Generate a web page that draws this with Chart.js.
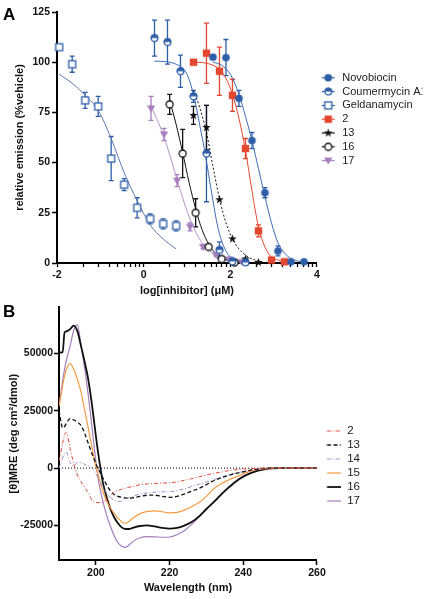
<!DOCTYPE html>
<html>
<head>
<meta charset="utf-8">
<script src="https://cdn.jsdelivr.net/npm/chart.js@4.4.0/dist/chart.umd.min.js"></script>
<style>
  body { margin: 0; background: #fff; }
  #wrap { position: relative; width: 427px; height: 599px; overflow: hidden; }
  canvas { position: absolute; left: 0; }
  #chartA { top: 0; }
  #chartB { top: 300px; }
  .panel { position: absolute; left: 3px; font: bold 17px/17px "Liberation Sans", Arial, sans-serif; color: #000; }
</style>
</head>
<body>
<div id="wrap">
  <canvas id="chartA" width="427" height="300"></canvas>
  <canvas id="chartB" width="427" height="299"></canvas>
  <div class="panel" style="top:6px">A</div>
  <div class="panel" style="top:303px">B</div>
</div>
<script>
// ---- Panel A: log[inhibitor] (uM) vs relative emission (%vehicle) ----
const novoX = [1.6, 1.9, 2.2, 2.5, 2.8, 3.1, 3.4, 3.7];
const novoY = [102.5, 102.3, 82, 61, 35, 6, 0.6, 0.6];
const novoErr = [1, 9, 4, 4, 2.5, 2.5, 0.5, 0.5];

const coumX = [0.25, 0.55, 0.85, 1.15, 1.45, 1.75, 2.05, 2.35];
const coumY = [112, 110, 95.5, 83, 54.5, 6.5, 0.8, 0.3];
const coumErr = [9, 11, 8, 3, 24, 4, 0.5, 0.5];

const geldX = [-1.95, -1.65, -1.35, -1.05, -0.75, -0.45, -0.15, 0.15, 0.45, 0.75];
const geldY = [107.5, 99, 81, 78, 52, 39, 27.5, 22, 19.5, 18.5];
const geldErr = [0, 4, 4, 5, 11, 3, 5, 2.5, 2.5, 2.5];

const c2X = [1.15, 1.45, 1.75, 2.05, 2.35, 2.65, 2.95, 3.25];
const c2Y = [100, 104.5, 95.5, 83.5, 57, 16, 1.5, 0.6];
const c2Err = [0, 15, 12, 8, 5, 3, 0.5, 0.5];

const c13X = [1.15, 1.45, 1.75, 2.05, 2.35, 2.65];
const c13Y = [73.5, 67.5, 31.5, 12, 2, 0.3];
const c13Err = [4.5, 11, 0, 0, 0, 0];

const c16X = [0.6, 0.9, 1.2, 1.5, 1.8, 2.1];
const c16Y = [79, 54.5, 25, 8, 2, 0.3];
const c16Err = [5, 12, 7, 1, 0.5, 0];

const c17X = [0.17, 0.47, 0.77, 1.07, 1.37, 1.67, 1.97, 2.27];
const c17Y = [77, 64, 41, 18, 8, 4, 1.8, 0.5];
const c17Err = [6, 3, 3, 2, 1, 0.5, 0.5, 0.5];

// fitted curves
const novoFitX = [1.6, 1.8, 2.0, 2.2, 2.35, 2.5, 2.65, 2.8, 2.95, 3.1, 3.25, 3.4, 3.55, 3.7];
const novoFitY = [100, 98.5, 94, 84, 73, 61, 47, 33, 20, 10, 5, 2.2, 1, 0.4];
const coumFitX = [0.25, 0.5, 0.75, 0.9, 1.0, 1.1, 1.2, 1.3, 1.4, 1.5, 1.6, 1.7, 1.8, 1.9, 2.0, 2.15, 2.35];
const coumFitY = [100.5, 100.3, 99, 97, 94, 88, 79, 68, 57, 44, 31, 19, 11, 6, 3, 1.2, 0.4];
const geldFitX = [-1.95, -1.65, -1.35, -1.05, -0.75, -0.45, -0.15, 0.15, 0.45, 0.75];
const geldFitY = [94, 89.5, 83.5, 76, 62, 45, 31, 19, 12, 7];
const c2FitX = [1.15, 1.4, 1.6, 1.75, 1.9, 2.05, 2.2, 2.35, 2.5, 2.65, 2.8, 2.95, 3.1, 3.25];
const c2FitY = [100, 99.7, 98.5, 96.5, 92, 84, 72, 56, 36, 18, 8, 3, 1.5, 0.6];
const c13FitX = [1.15, 1.3, 1.45, 1.6, 1.75, 1.9, 2.05, 2.2, 2.35, 2.5, 2.65];
const c13FitY = [86, 77, 65, 48, 32, 20, 12, 7, 4, 2, 1];
const c16FitX = [0.6, 0.75, 0.9, 1.05, 1.2, 1.35, 1.5, 1.65, 1.8, 1.95, 2.1];
const c16FitY = [81, 69, 55, 40, 27, 16.5, 9.5, 5, 2.5, 1.2, 0.5];
const c17FitX = [0.17, 0.3, 0.45, 0.6, 0.75, 0.9, 1.05, 1.2, 1.35, 1.5, 1.7, 1.9, 2.1, 2.27];
const c17FitY = [78, 72, 64, 54, 43, 32.5, 23, 15.5, 10, 6.5, 3.5, 2, 1, 0.5];

const majorTicksA = [-2, 0, 2, 4];
const yTicksA = [0, 25, 50, 75, 100, 125];

// ---- Panel B: CD spectra ----
const wavelength = [190, 191, 191.5, 192, 193, 194, 195, 196, 197, 198, 199, 200, 201, 202, 203, 204, 205, 206, 207, 208,
  209, 210, 212, 214, 216, 218, 220, 222, 224, 226, 228, 230, 232, 234, 236, 238, 240, 242, 244, 246, 248, 250, 255, 260];
const cd2 = [3000, 11000, 14500, 15500, 8500, 2000, -3000, -6000, -8500, -11000, -14000, -15000, -15000, -14800, -13500, -12000, -10500, -9800, -9200, -8700,
  -8300, -8000, -7200, -6900, -6700, -6500, -6400, -6000, -5300, -4600, -3800, -3000, -2300, -1700, -1100, -700, -400, -200, -100, 0, 0, 0, 0, 0];
const cd13 = [25000, 17500, 18000, 19500, 21500, 21000, 20000, 18500, 15000, 10500, 6000, 2000, -1500, -4500, -7500, -10000, -11500, -12300, -12700, -13000,
  -13100, -13000, -12300, -11800, -11800, -12300, -12700, -12300, -11300, -10000, -8800, -7200, -5500, -4200, -3200, -2300, -1600, -900, -400, -100, 0, 0, 0, 0];
const cd14 = [0, 4500, 6500, 7000, 2500, 1000, 2500, 2500, 1500, 800, 0, -2500, -5500, -8500, -11000, -12800, -14000, -14500, -14300, -13600,
  -12900, -12300, -11300, -10800, -10500, -10300, -10300, -9800, -9000, -8000, -7000, -6000, -5000, -4000, -3000, -2200, -1500, -900, -400, -100, 0, 0, 0, 0];
const cd15 = [27000, 36000, 40000, 43000, 45500, 43000, 38500, 33000, 25000, 17000, 8500, 1000, -5000, -10500, -14500, -17500, -19800, -21800, -23300, -24000,
  -23200, -21800, -19800, -18800, -18600, -19000, -19500, -19300, -18300, -16800, -15000, -12300, -9000, -6800, -5200, -3800, -2500, -1300, -600, -200, 0, 0, 0, 0];
const cd16 = [50300, 50500, 59000, 59500, 60500, 62000, 59500, 53000, 46000, 38000, 27000, 14000, 2500, -7000, -13000, -18000, -21500, -24000, -25800, -26500,
  -26500, -26000, -25200, -24900, -25400, -26000, -26300, -26000, -25000, -23500, -21000, -17800, -14800, -11500, -8500, -5800, -3700, -2200, -1100, -400, -100, 0, 0, 0];
const cd17 = [27000, 38000, 43000, 47000, 53000, 60000, 62500, 53000, 43000, 31000, 17000, 3000, -8000, -15000, -21000, -25500, -29500, -32500, -34000, -34500,
  -33500, -32000, -30300, -29800, -29900, -30100, -30000, -29000, -27300, -24500, -21300, -17800, -14500, -11300, -8300, -5700, -3600, -2100, -1000, -300, 0, 0, 0, 0];
const xTicksB = [200, 220, 240, 260];
const yTicksB = [-25000, 0, 25000, 50000];

const FONT = "'Liberation Sans', Arial, sans-serif";
const BLUE = '#2d5ea8', RED = '#e4472f', PURPLE = '#a67cbd';

function pts(xs, ys) {
  return xs.map((x, i) => ({x: x, y: ys[i]}));
}

// small canvas symbols (GraphPad style)
function makeMarker(kind, color, withLine) {
  const w = withLine ? 17 : 11, h = 11;
  const c = document.createElement('canvas');
  c.width = w; c.height = h;
  const g = c.getContext('2d');
  const cx = w / 2, cy = h / 2;
  if (withLine) {
    g.strokeStyle = color; g.lineWidth = 1.2;
    g.beginPath(); g.moveTo(2, cy); g.lineTo(w - 2, cy); g.stroke();
  }
  g.lineWidth = 1.3; g.strokeStyle = color; g.fillStyle = color;
  g.beginPath();
  switch (kind) {
    case 'circle':
      g.arc(cx, cy, 3.8, 0, 2 * Math.PI); g.fill(); break;
    case 'half':
      g.arc(cx, cy, 3.4, 0, 2 * Math.PI); g.fillStyle = '#fff'; g.fill(); g.stroke();
      g.beginPath(); g.arc(cx, cy, 3.9, Math.PI, 2 * Math.PI); g.closePath();
      g.fillStyle = color; g.fill(); break;
    case 'openSquare':
      g.fillStyle = '#fff'; g.fillRect(cx - 3.5, cy - 3.5, 7, 7); g.strokeRect(cx - 3.5, cy - 3.5, 7, 7); break;
    case 'square':
      g.fillRect(cx - 3.7, cy - 3.7, 7.4, 7.4); break;
    case 'star':
      for (let k = 0; k < 10; k++) {
        const r = k % 2 ? 1.8 : 4.5, a = -Math.PI / 2 + k * Math.PI / 5;
        g.lineTo(cx + r * Math.cos(a), cy + r * Math.sin(a));
      }
      g.closePath(); g.fill(); break;
    case 'openCircle':
      g.arc(cx, cy, 3.5, 0, 2 * Math.PI); g.fillStyle = '#fff'; g.fill(); g.stroke(); break;
    case 'triDown':
      g.moveTo(cx - 4.2, cy - 3); g.lineTo(cx + 4.2, cy - 3); g.lineTo(cx, cy + 4); g.closePath(); g.fill(); break;
  }
  return c;
}

function lineSample(color, dash, width) {
  const c = document.createElement('canvas');
  c.width = 22; c.height = 8;
  const g = c.getContext('2d');
  g.strokeStyle = color; g.lineWidth = width; g.setLineDash(dash);
  g.beginPath(); g.moveTo(7.5, 4); g.lineTo(22, 4); g.stroke();
  return c;
}

function pointSet(label, xs, ys, errs, kind, color) {
  return {
    label: label, data: pts(xs, ys), errors: errs,
    pointStyle: makeMarker(kind, color, false), legendImg: makeMarker(kind, color, true),
    borderColor: color, backgroundColor: color, showLine: false, clip: false, pointRadius: 5
  };
}

function fitSet(xs, ys, color, dash) {
  return {
    label: '', data: pts(xs, ys), showLine: true, pointRadius: 0, borderColor: color,
    borderWidth: 1, borderDash: dash || [], cubicInterpolationMode: 'monotone', fill: false
  };
}

const errorBars = {
  id: 'errorBars',
  beforeDatasetsDraw(chart) {
    const {ctx, scales: {x, y}} = chart;
    ctx.save();
    chart.data.datasets.forEach(ds => {
      if (!ds.errors) return;
      ctx.strokeStyle = ds.borderColor;
      ctx.lineWidth = 1.3;
      ds.data.forEach((p, j) => {
        const e = ds.errors[j];
        if (!e) return;
        const px = x.getPixelForValue(p.x);
        const top = y.getPixelForValue(p.y + e);
        const bot = y.getPixelForValue(Math.max(p.y - e, 0));
        ctx.beginPath();
        ctx.moveTo(px, top); ctx.lineTo(px, bot);
        ctx.moveTo(px - 2.5, top); ctx.lineTo(px + 2.5, top);
        ctx.moveTo(px - 2.5, bot); ctx.lineTo(px + 2.5, bot);
        ctx.stroke();
      });
    });
    ctx.restore();
  }
};

// minor ticks of the log-style x axis
const xTicksA = [];
majorTicksA.forEach((m, i) => {
  xTicksA.push(m);
  if (i < majorTicksA.length - 1) {
    for (let k = 2; k <= 9; k++) xTicksA.push(m + 2 * Math.log10(k));
  }
});

const tickFont = {family: FONT, size: 10.5, weight: 'bold'};
const titleFont = {family: FONT, size: 11, weight: 'bold'};

new Chart(document.getElementById('chartA'), {
  type: 'scatter',
  data: {
    datasets: [
      pointSet('Novobiocin', novoX, novoY, novoErr, 'circle', BLUE),
      pointSet('Coumermycin A1', coumX, coumY, coumErr, 'half', BLUE),
      pointSet('Geldanamycin', geldX, geldY, geldErr, 'openSquare', BLUE),
      pointSet('2', c2X, c2Y, c2Err, 'square', RED),
      pointSet('13', c13X, c13Y, c13Err, 'star', '#111'),
      pointSet('16', c16X, c16Y, c16Err, 'openCircle', '#111'),
      pointSet('17', c17X, c17Y, c17Err, 'triDown', PURPLE),
      fitSet(novoFitX, novoFitY, '#3e6cb5'),
      fitSet(coumFitX, coumFitY, '#3e6cb5'),
      fitSet(geldFitX, geldFitY, '#5a78b0'),
      fitSet(c2FitX, c2FitY, RED),
      fitSet(c13FitX, c13FitY, '#111', [2, 2]),
      fitSet(c16FitX, c16FitY, '#111'),
      fitSet(c17FitX, c17FitY, '#b592c8')
    ]
  },
  options: {
    responsive: false,
    animation: false,
    layout: {padding: {top: 12, right: 4.4, bottom: 0, left: 0}},
    plugins: {
      tooltip: {enabled: false},
      legend: {
        position: 'right',
        align: 'start',
        title: {display: true, text: ' ', font: {size: 10}, padding: {top: 45.5, bottom: 0}},
        labels: {
          usePointStyle: true,
          pointStyleWidth: 17,
          padding: 2.8,
          color: '#222',
          font: {family: FONT, size: 11},
          generateLabels: chart => chart.data.datasets.filter(d => d.legendImg).map(d => ({
            text: d.label, pointStyle: d.legendImg, fillStyle: d.borderColor, strokeStyle: d.borderColor,
            lineWidth: 0, hidden: false, fontColor: '#222',
            datasetIndex: chart.data.datasets.indexOf(d)
          }))
        }
      }
    },
    scales: {
      x: {
        type: 'linear', min: -2, max: 4,
        afterBuildTicks: s => { s.ticks = xTicksA.map(v => ({value: v})); },
        afterFit: s => { s.height = 37; },
        ticks: {
          autoSkip: false, maxRotation: 0, padding: 2, color: '#111', font: tickFont,
          callback: v => majorTicksA.includes(v) ? String(v) : ''
        },
        grid: {drawOnChartArea: false, tickLength: 4, color: '#000', tickWidth: 1.3},
        border: {color: '#000', width: 2},
        title: {display: true, text: 'log[inhibitor] (μM)', color: '#111', font: titleFont, padding: {top: 0, bottom: 2.4}}
      },
      y: {
        min: 0, max: 125,
        afterBuildTicks: s => { s.ticks = yTicksA.map(v => ({value: v})); },
        afterFit: s => { s.width = 57; },
        ticks: {padding: 2, color: '#111', font: tickFont},
        grid: {drawOnChartArea: false, tickLength: 5, color: '#000', tickWidth: 1.5},
        border: {color: '#000', width: 2},
        title: {display: true, text: 'relative emission (%vehicle)', color: '#111', font: titleFont, padding: {top: 13, bottom: 0}}
      }
    }
  },
  plugins: [errorBars]
});

function cdSet(label, values, color, dash, width) {
  return {
    label: label, data: pts(wavelength, values), showLine: true, borderColor: color, borderWidth: width,
    borderDash: dash, pointRadius: 0, cubicInterpolationMode: 'monotone', fill: false,
    legendImg: lineSample(color, dash, width)
  };
}

new Chart(document.getElementById('chartB'), {
  type: 'scatter',
  data: {
    datasets: [
      cdSet('2', cd2, '#dd4b3c', [4, 2, 1, 2], 1),
      cdSet('13', cd13, '#111', [4, 2.5], 1.3),
      cdSet('14', cd14, '#9d8bc4', [4, 2, 1, 2], 1),
      cdSet('15', cd15, '#f29b44', [], 1.2),
      cdSet('16', cd16, '#111', [], 1.8),
      cdSet('17', cd17, '#a47cbd', [], 1.2),
      {
        label: '', data: [{x: 190, y: 0}, {x: 260, y: 0}], showLine: true, pointRadius: 0,
        borderColor: '#000', borderWidth: 1, borderDash: [1, 2]
      }
    ]
  },
  options: {
    responsive: false,
    animation: false,
    layout: {padding: {top: 7, right: 57, bottom: 0, left: 0}},
    plugins: {
      tooltip: {enabled: false},
      legend: {
        position: 'right',
        align: 'start',
        title: {display: true, text: ' ', font: {size: 10}, padding: {top: 103.75, bottom: 0}},
        labels: {
          usePointStyle: true,
          pointStyleWidth: 22,
          padding: 2.5,
          color: '#222',
          font: {family: FONT, size: 11.5},
          generateLabels: chart => chart.data.datasets.filter(d => d.legendImg).map(d => ({
            text: d.label, pointStyle: d.legendImg, fillStyle: d.borderColor, strokeStyle: d.borderColor,
            lineWidth: 0, hidden: false, fontColor: '#222',
            datasetIndex: chart.data.datasets.indexOf(d)
          }))
        }
      }
    },
    scales: {
      x: {
        type: 'linear', min: 190, max: 260,
        afterBuildTicks: s => { s.ticks = xTicksB.map(v => ({value: v})); },
        afterFit: s => { s.height = 39; },
        ticks: {autoSkip: false, maxRotation: 0, padding: 2, color: '#111', font: tickFont},
        grid: {drawOnChartArea: false, tickLength: 5, color: '#000', tickWidth: 1.5},
        border: {color: '#000', width: 2},
        title: {display: true, text: 'Wavelength (nm)', color: '#111', font: titleFont, padding: {top: 0, bottom: 4}}
      },
      y: {
        min: -40000, max: 70000,
        afterBuildTicks: s => { s.ticks = yTicksB.map(v => ({value: v})); },
        afterFit: s => { s.width = 59; },
        ticks: {padding: 1, color: '#111', font: tickFont, callback: v => String(v)},
        grid: {drawOnChartArea: false, tickLength: 5, color: '#000', tickWidth: 1.5},
        border: {color: '#000', width: 2},
        title: {display: true, text: '[θ]MRE (deg cm²/dmol)', color: '#111', font: titleFont, padding: {top: 7.4, bottom: 0}}
      }
    }
  }
});
</script>
</body>
</html>
